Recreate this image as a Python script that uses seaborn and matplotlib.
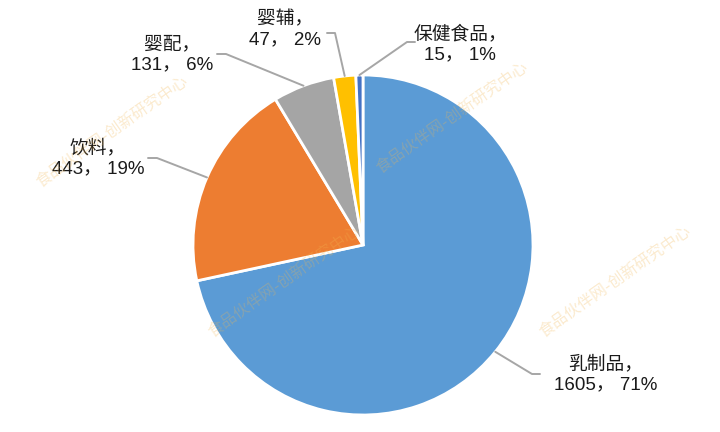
import numpy as np
import seaborn as sns
import matplotlib.pyplot as plt

categories = ["乳制品", "饮料", "婴配", "婴辅", "保健食品"]
values = [1605, 443, 131, 47, 15]
percents = ["71%", "19%", "6%", "2%", "1%"]
colors = ["#5B9BD5", "#ED7D31", "#A5A5A5", "#FFC000", "#4472C4"]

sns.set_theme(style="white")
plt.rcParams["font.family"] = ["Liberation Sans", "Noto Sans CJK SC", "DejaVu Sans"]

W, H = 720, 432
fig = plt.figure(figsize=(7.2, 4.32), dpi=100)
ax = fig.add_axes([0, 0, 1, 1])


def px(x, y):
    return x, H - y


cx, cy, r = 363, 245, 170
wedges, _ = ax.pie(values, colors=colors, startangle=90, counterclock=False,
                   center=px(cx, cy), radius=r,
                   wedgeprops=dict(edgecolor="white", linewidth=2))

# faint watermark, drawn over the pie
wm = "食品伙伴网-创新研究中心"
for x, y in [(452, 118), (284, 282), (615, 282), (112, 132)]:
    ax.text(*px(x, y), wm, rotation=35, ha="center", va="center", fontsize=11.5,
            color="#F2B650", alpha=0.28, family=["Noto Sans CJK SC"], zorder=5)

# label text centers and leader-line elbows (pixel space)
label_pos = [(606, 374), (98, 158), (172, 55), (285, 30), (460, 44)]
elbows = [[(532, 374), (540, 374)],
          [(157, 158), (148, 158)],
          [(226, 54), (217, 54)],
          [(335, 33), (327, 33)],
          [(407, 42), (415, 42)]]

for w, cat, v, p, (tx, ty), elb in zip(wedges, categories, values, percents, label_pos, elbows):
    ang = np.deg2rad((w.theta1 + w.theta2) / 2)
    sx, sy = cx + r * np.cos(ang), cy - r * np.sin(ang)
    pts = [(sx, sy)] + elb
    xs = [q[0] for q in pts]
    ys = [H - q[1] for q in pts]
    ax.plot(xs, ys, color="#A6A6A6", linewidth=1.4, zorder=3)
    ax.text(*px(tx, ty), f"{cat}，\n{v}， {p}", ha="center", va="center",
            fontsize=13.5, color="#1a1a1a", linespacing=1.25, zorder=4)

ax.set_xlim(0, W)
ax.set_ylim(0, H)
ax.set_aspect("equal")
ax.axis("off")

fig.savefig("out.png", dpi=100)
